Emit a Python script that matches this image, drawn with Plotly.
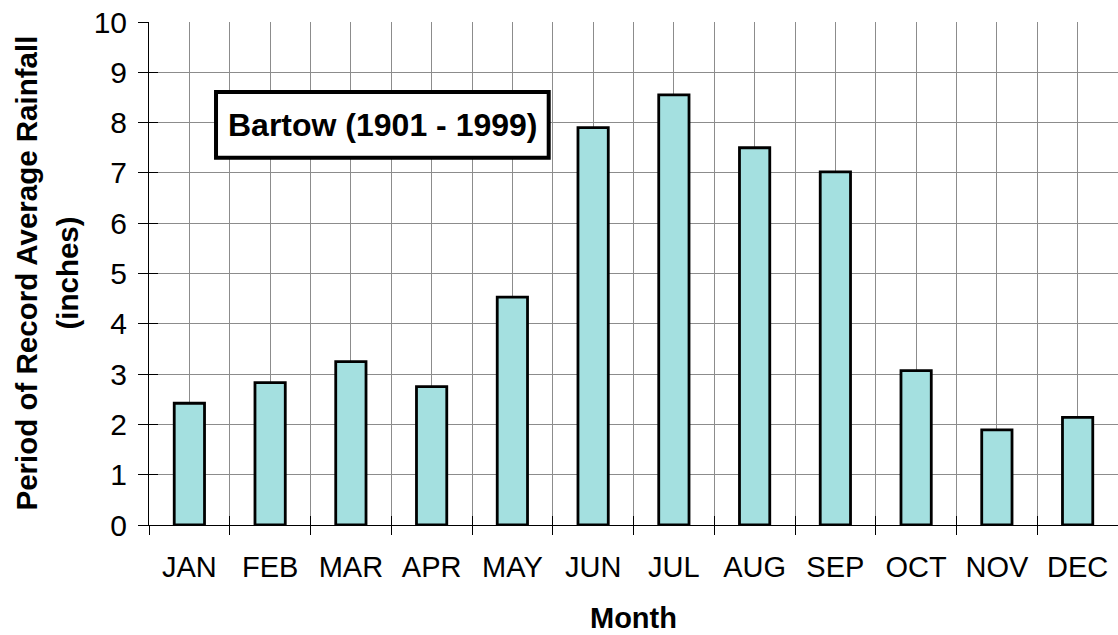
import plotly.graph_objects as go

months = ["JAN", "FEB", "MAR", "APR", "MAY", "JUN", "JUL", "AUG", "SEP", "OCT", "NOV", "DEC"]
rainfall = [2.42, 2.83, 3.25, 2.75, 4.53, 7.90, 8.55, 7.50, 7.02, 3.07, 1.89, 2.14]
y_ticks = list(range(0, 11))
station_label = "Bartow (1901 - 1999)"
y_title_1 = "Period of Record Average Rainfall"
y_title_2 = "(inches)"
x_title = "Month"

FONT = "Liberation Sans, Arial, sans-serif"
GRID = "#8c8c8c"

fig = go.Figure()
fig.add_trace(go.Bar(
    x=months, y=rainfall, width=0.375,
    marker=dict(color="#a4e0e0", line=dict(color="black", width=2.8)),
    hoverinfo="x+y", showlegend=False,
))
# invisible helper trace for overlay axes (center gridlines / inside ticks)
fig.add_trace(go.Scatter(x=[0], y=[0], xaxis="x2", yaxis="y2", mode="markers",
                         marker=dict(opacity=0), showlegend=False, hoverinfo="skip"))

fig.update_layout(
    width=1118, height=635,
    margin=dict(l=149, r=0, t=22, b=110),
    paper_bgcolor="white", plot_bgcolor="white",
    font=dict(family=FONT, size=28, color="black"),
    xaxis=dict(
        type="category", categoryorder="array", categoryarray=months,
        range=[-0.5, 11.5],
        tickson="boundaries", ticks="outside", ticklen=9, tickcolor="black", tickwidth=1,
        showgrid=True, gridcolor=GRID, gridwidth=1,
        showline=True, linecolor="black", linewidth=1,
        tickfont=dict(size=29), ticklabelstandoff=16,
        zeroline=False,
    ),
    yaxis=dict(
        range=[0, 10], tickvals=y_ticks, ticks="outside", ticklen=10, tickcolor="black",
        showgrid=True, gridcolor=GRID, gridwidth=1,
        showline=True, linecolor="black", linewidth=1,
        tickfont=dict(size=30), ticklabelstandoff=5, zeroline=False,
    ),
    xaxis2=dict(
        overlaying="x", range=[-0.5, 11.5], tick0=-0.5, dtick=1,
        ticks="inside", ticklen=9, tickcolor="black", showticklabels=False,
        showgrid=False, zeroline=False, showline=False,
        minor=dict(tick0=0, dtick=1, showgrid=True, gridcolor=GRID, gridwidth=1, ticks=""),
    ),
    yaxis2=dict(
        overlaying="y", range=[0, 10], tick0=0, dtick=1,
        ticks="inside", ticklen=9, tickcolor="black", showticklabels=False,
        showgrid=False, zeroline=False, showline=False,
    ),
)

# Station label box
fig.add_shape(type="rect", xref="x", yref="y", x0=0.33, x1=4.45, y0=7.30, y1=8.61,
              line=dict(color="black", width=4), fillcolor="white", layer="above")
fig.add_annotation(xref="x", yref="y", x=2.39, y=7.955, text="<b>%s</b>" % station_label,
                   showarrow=False, font=dict(size=32), xanchor="center", yanchor="middle")

# Axis titles
fig.add_annotation(xref="paper", yref="paper", x=-123 / 969, y=0.5, text="<b>%s</b>" % y_title_1,
                   textangle=-90, showarrow=False, font=dict(size=29.5),
                   xanchor="center", yanchor="middle")
fig.add_annotation(xref="paper", yref="paper", x=-82 / 969, y=0.5, text="<b>%s</b>" % y_title_2,
                   textangle=-90, showarrow=False, font=dict(size=29.5),
                   xanchor="center", yanchor="middle")
fig.add_annotation(xref="paper", yref="paper", x=0.5, y=-(618 - 525) / 503, text="<b>%s</b>" % x_title,
                   showarrow=False, font=dict(size=29), xanchor="center", yanchor="middle")

fig.write_html("out.html", config={"displayModeBar": False},
               post_script="document.body.style.margin='0';document.body.style.overflow='hidden';")
